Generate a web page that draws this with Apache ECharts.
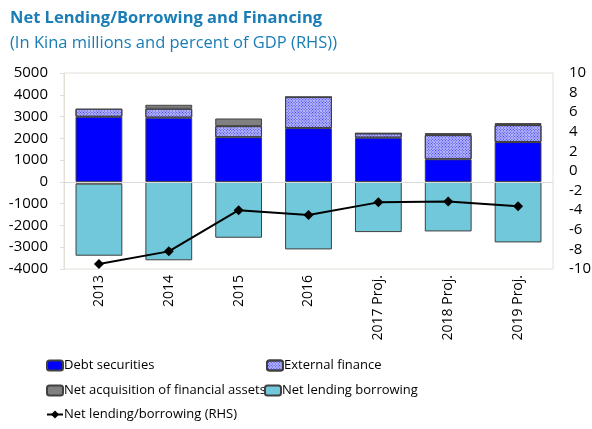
<!DOCTYPE html>
<html>
<head>
<meta charset="utf-8">
<script src="https://cdn.jsdelivr.net/npm/echarts@6/dist/echarts.min.js"></script>
<style>
  html, body { margin: 0; padding: 0; background: #fff; }
  #main { width: 592px; height: 429px; }
</style>
</head>
<body>
<div id="main"></div>
<script>
var years = ['2013', '2014', '2015', '2016', '2017 Proj.', '2018 Proj.', '2019 Proj.'];
var debtSecurities = [2990, 2950, 2050, 2470, 2030, 1040, 1830];
var externalFinance = [370, 410, 510, 1430, 200, 1110, 780];
var netAcquisition = [-80, 180, 350, 0, 0, 90, 90];
var netLending = [-3310, -3600, -2565, -3100, -2305, -2275, -2780];
var netLendingPct = [-9.5, -8.2, -4.0, -4.5, -3.2, -3.1, -3.6];

var font = '"Open Sans", "Noto Sans", sans-serif';
var blue = '#1a7db5';

var myChart = echarts.init(document.getElementById('main'));

function legendAt(name, left, top) {
    return {
        data: [name], left: left, top: top, padding: 0,
        itemWidth: 16, itemHeight: 10, itemGap: 0,
        textStyle: {fontFamily: font, fontSize: 13, color: '#000', padding: [0, 0, 0, -4]}
    };
}

var barBorder = {borderColor: '#404040', borderWidth: 1};

var option = {
    animation: false,
    title: [
        {text: 'Net Lending/Borrowing and Financing', left: 5, top: 5,
         textStyle: {fontFamily: font, fontSize: 16.5, fontWeight: 'bold', color: blue}},
        {text: '(In Kina millions and percent of GDP (RHS))', left: 5, top: 30,
         textStyle: {fontFamily: font, fontSize: 16.5, fontWeight: 'normal', color: blue}}
    ],
    legend: [
        legendAt('Debt securities', 46, 359),
        legendAt('External finance', 266, 359),
        legendAt('Net acquisition of financial assets', 46, 384),
        legendAt('Net lending borrowing', 264, 384),
        legendAt('Net lending/borrowing (RHS)', 46, 408)
    ],
    grid: {left: 64, right: 39, top: 73, bottom: 160, show: true, borderColor: '#e4e0d8', borderWidth: 1,
           outerBoundsMode: 'none'},
    xAxis: {
        type: 'category',
        data: years,
        axisLine: {show: false},
        axisTick: {show: false},
        axisLabel: {rotate: 90, fontFamily: font, fontSize: 14, color: '#000', margin: 6}
    },
    yAxis: [
        {
            type: 'value', min: -4000, max: 5000, interval: 1000,
            axisLine: {show: true, lineStyle: {color: '#e4e0d8'}},
            axisTick: {show: true, length: 4, lineStyle: {color: '#e4e0d8'}},
            splitLine: {show: false},
            axisLabel: {fontFamily: font, fontSize: 15, color: '#000', margin: 16,
                        formatter: function (v) { return String(v); }}
        },
        {
            type: 'value', min: -10, max: 10, interval: 2, position: 'right',
            axisLine: {show: false},
            axisTick: {show: false},
            splitLine: {show: false},
            axisLabel: {fontFamily: font, fontSize: 15, color: '#000', margin: 16}
        }
    ],
    series: [
        {
            name: 'Debt securities', type: 'bar', stack: 'a', barWidth: '67%',
            data: debtSecurities,
            itemStyle: Object.assign({color: '#0000ff'}, barBorder),
            // zero line across the plot
            markLine: {
                silent: true, symbol: 'none', label: {show: false},
                lineStyle: {color: '#d9d9d9', type: 'solid', width: 1},
                data: [{yAxis: 0}]
            }
        },
        {
            name: 'External finance', type: 'bar', stack: 'a',
            data: externalFinance,
            itemStyle: Object.assign({
                color: '#b8b8f8',
                decal: {symbol: 'rect', symbolSize: 1, dashArrayX: [1, 1], dashArrayY: [1, 1],
                        rotation: Math.PI / 4, color: '#3434ee'}
            }, barBorder)
        },
        {
            name: 'Net acquisition of financial assets', type: 'bar', stack: 'a',
            data: netAcquisition,
            itemStyle: Object.assign({color: '#808080'}, barBorder)
        },
        {
            name: 'Net lending borrowing', type: 'bar', stack: 'a',
            data: netLending,
            itemStyle: Object.assign({color: '#70c8da'}, barBorder)
        },
        {
            name: 'Net lending/borrowing (RHS)', type: 'line', yAxisIndex: 1,
            data: netLendingPct,
            symbol: 'diamond', symbolSize: 10,
            lineStyle: {color: '#000', width: 2},
            itemStyle: {color: '#000'},
            z: 5
        }
    ]
};

myChart.setOption(option);
</script>
</body>
</html>
